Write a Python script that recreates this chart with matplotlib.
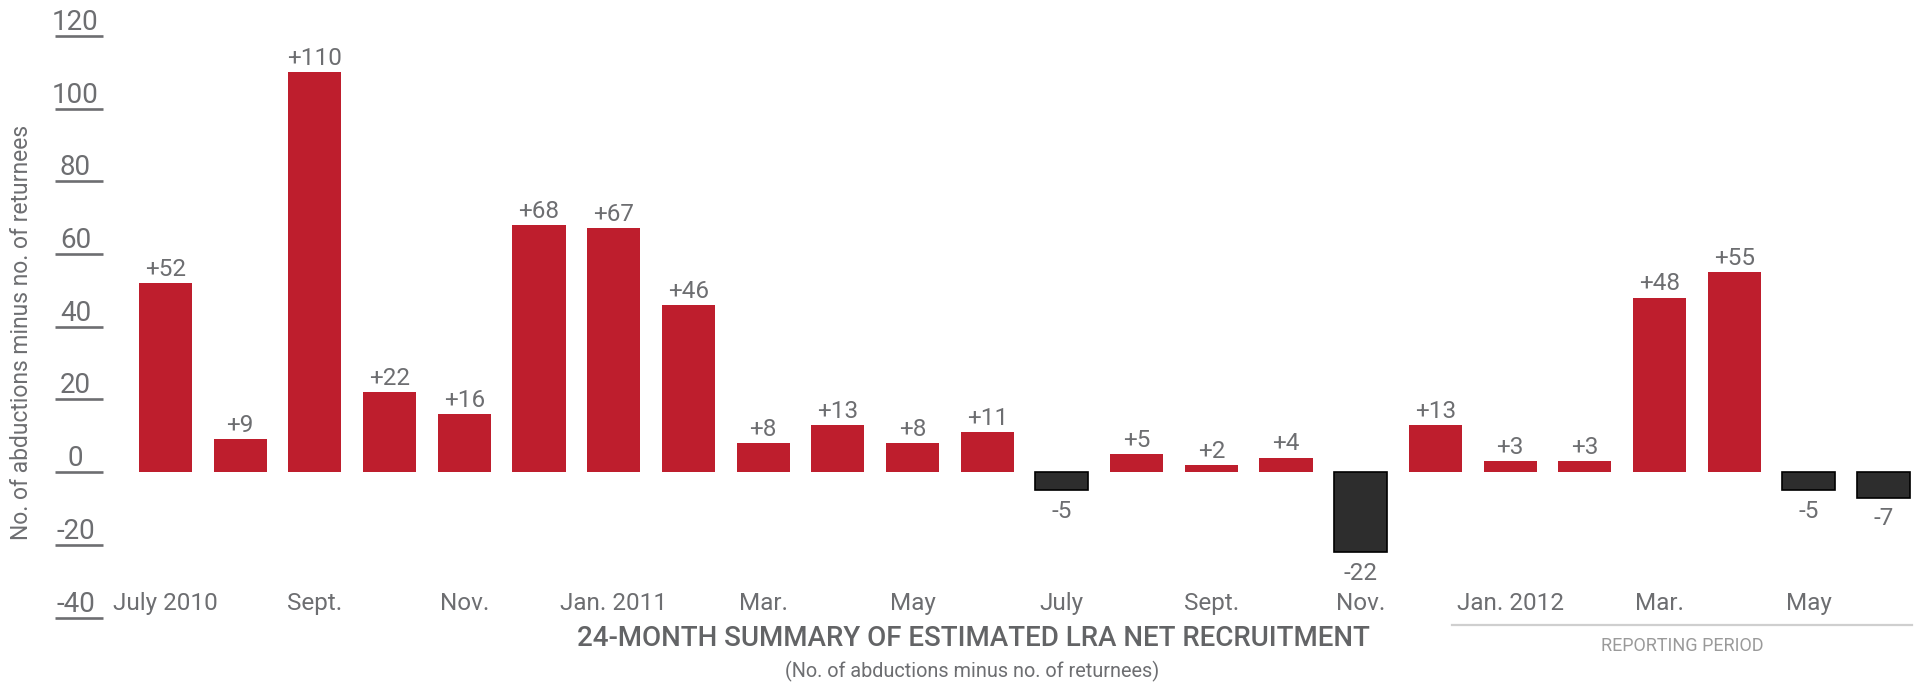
import matplotlib
matplotlib.use("Agg")
import matplotlib.pyplot as plt
from matplotlib.lines import Line2D

plt.rcParams['font.family'] = ['Roboto', 'DejaVu Sans']

# Monthly net recruitment, July 2010 - June 2012
months = ["July 2010", "Aug.", "Sept.", "Oct.", "Nov.", "Dec.",
          "Jan. 2011", "Feb.", "Mar.", "Apr.", "May", "June",
          "July", "Aug.", "Sept.", "Oct.", "Nov.", "Dec.",
          "Jan. 2012", "Feb.", "Mar.", "Apr.", "May", "June"]
net = [52, 9, 110, 22, 16, 68, 67, 46, 8, 13, 8, 11,
       -5, 5, 2, 4, -22, 13, 3, 3, 48, 55, -5, -7]
yticks = [-40, -20, 0, 20, 40, 60, 80, 100, 120]

RED = '#be1e2d'
DARK = '#2d2d2d'
GREY = '#6d6e71'

W, H = 1917, 684
fig = plt.figure(figsize=(W / 100, H / 100), dpi=100)

# axes placed so -40..120 spans the ticked area of the reference
left_px, top_px, bot_px = 103, 35.8, 617.5
ax = fig.add_axes([left_px / W, 1 - bot_px / H, 1 - left_px / W, (bot_px - top_px) / H])

x = list(range(len(net)))
colors = [RED if v >= 0 else DARK for v in net]
edges = ['none' if v >= 0 else 'black' for v in net]
ax.bar(x, net, width=0.71, color=colors, edgecolor=edges, linewidth=1.2)

for xi, v in zip(x, net):
    if v >= 0:
        ax.annotate(f"+{v}", (xi, v), xytext=(0, 1.5), textcoords='offset points',
                    ha='center', va='bottom', fontsize=17.5, color=GREY)
    else:
        ax.annotate(f"{v}", (xi, v), xytext=(0, -7), textcoords='offset points',
                    ha='center', va='top', fontsize=17.5, color=GREY)

px_per_bar = 74.7
first_center = 165.5
ax.set_xlim((left_px - first_center) / px_per_bar, (W - first_center) / px_per_bar)
ax.set_ylim(-40, 120)

for s in ax.spines.values():
    s.set_visible(False)

# x labels every other month, drawn inside the bottom of the axes
ax.set_xticks(x[::2])
ax.set_xticklabels(months[::2])
ax.tick_params(axis='x', length=0, pad=-5.5, labelsize=17.5, labelcolor=GREY)
plt.setp(ax.get_xticklabels(), va='baseline')

# y ticks: long marks with the label sitting on top
ax.set_yticks(yticks)
ax.set_yticklabels([str(t) for t in yticks])
ax.tick_params(axis='y', length=34.6, width=1.9, color=GREY, pad=-14.8,
               labelsize=20, labelcolor=GREY)
plt.setp(ax.get_yticklabels(), ha='center', va='bottom')

fig.text(22 / W, 1 - 332 / H, "No. of abductions minus no. of returnees",
         rotation=90, ha='center', va='center', fontsize=16.5, color=GREY)

fig.text(973 / W, 1 - 639 / H, "24-MONTH SUMMARY OF ESTIMATED LRA NET RECRUITMENT",
         ha='center', va='center', fontsize=20, fontweight='medium', color='#636466')
fig.text(972 / W, 1 - 671 / H, "(No. of abductions minus no. of returnees)",
         ha='center', va='center', fontsize=14.3, color=GREY)

fig.add_artist(Line2D([1452 / W, 1912 / W], [1 - 625 / H, 1 - 625 / H],
                      transform=fig.transFigure, color='#cfcfcf', linewidth=1.6))
fig.text(1682 / W, 1 - 646 / H, "REPORTING PERIOD",
         ha='center', va='center', fontsize=13, color='#9a9a9a')

fig.savefig("out.png", dpi=100)
